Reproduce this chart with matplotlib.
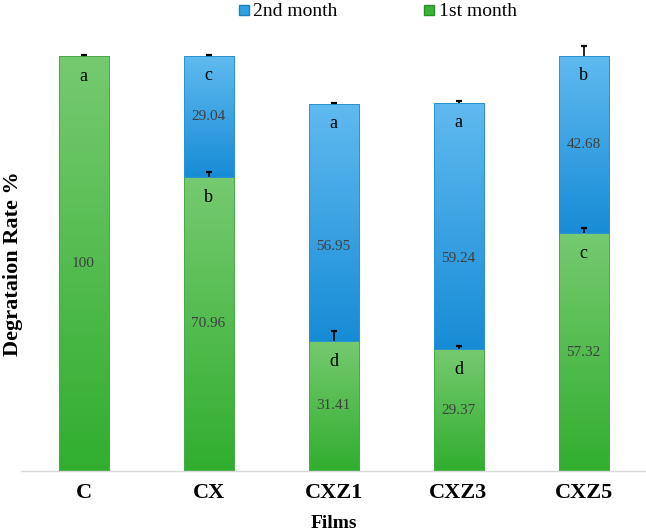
import numpy as np
import matplotlib
matplotlib.use("Agg")
import matplotlib.pyplot as plt
from matplotlib.colors import LinearSegmentedColormap
from matplotlib.lines import Line2D

# ---------------- data ----------------
films = ["C", "CX", "CXZ1", "CXZ3", "CXZ5"]
month1 = [100, 70.96, 31.41, 29.37, 57.32]
month2 = [0, 29.04, 56.95, 59.24, 42.68]
month1_err = [0.3, 1.2, 2.4, 0.8, 1.2]
month2_err = [0.0, 0.3, 0.4, 0.6, 2.4]
month1_letters = ["a", "b", "d", "d", "c"]
month2_letters = ["", "c", "a", "a", "b"]
series_names = ["2nd month", "1st month"]

# label nudges (layout, in data units) for the 2nd month value labels
month2_label_nudge = [0, 0, -5.8, -7.7, 0]

plt.rcParams['font.family'] = ['Liberation Serif', 'DejaVu Serif']

fig = plt.figure(figsize=(6.46, 5.31), dpi=100)
ax = fig.add_axes([21/646, 60/531, 625/646, 415/531])

x = np.arange(len(films))
width = 0.4

green_cmap = LinearSegmentedColormap.from_list("g", ["#31ae2f", "#76ca70"])
blue_cmap = LinearSegmentedColormap.from_list("b", ["#178cd6", "#60baef"])
grad = np.linspace(0, 1, 256).reshape(-1, 1)

bars1 = ax.bar(x, month1, width, color="#4dbb49", edgecolor="#49a548", linewidth=0.6, zorder=2)
bars2 = ax.bar(x, month2, width, bottom=month1, color="#35a3e3", edgecolor="#2a8fcc", linewidth=0.6, zorder=2)

for bars, cmap in ((bars1, green_cmap), (bars2, blue_cmap)):
    for r in bars:
        if r.get_height() <= 0:
            continue
        x0, y0 = r.get_x(), r.get_y()
        w, h = r.get_width(), r.get_height()
        im = ax.imshow(grad, extent=[x0, x0 + w, y0, y0 + h], origin="lower",
                       aspect="auto", cmap=cmap, zorder=2.5, interpolation="bilinear")
        im.set_clip_path(r)

# edges on top of gradient
for bars, ec in ((bars1, "#4aa848"), (bars2, "#2b92cf")):
    for r in bars:
        if r.get_height() <= 0:
            continue
        ax.add_patch(plt.Rectangle((r.get_x(), r.get_y()), r.get_width(), r.get_height(),
                                   fill=False, edgecolor=ec, linewidth=0.7, zorder=2.6))

ax.set_xlim(-0.5, 4.5)
ax.set_ylim(0, 100)

# error bars (plus side only, cap on top)
tops1 = np.array(month1)
tops2 = np.array(month1) + np.array(month2)


def plus_err(xi, top, err):
    ax.vlines(xi, top, top + err, colors="black", linewidth=1.2, zorder=4, clip_on=False)
    ax.plot([xi], [top + err], marker="_", markersize=5, markeredgewidth=1.6,
            color="black", zorder=4, clip_on=False)


for i in range(len(films)):
    plus_err(x[i], tops1[i], month1_err[i])
    if month2[i] > 0:
        plus_err(x[i], tops2[i], month2_err[i])

# value labels and letters
for i in range(len(films)):
    ax.text(x[i], month1[i] / 2, f"{month1[i]:g}", ha="center", va="center",
            fontsize=11, color="#404040", zorder=5)
    ax.annotate(month1_letters[i], (x[i], tops1[i]), xytext=(0, -15), textcoords="offset points",
                ha="center", va="center", fontsize=13, color="black", zorder=5)
    if month2[i] > 0:
        ax.text(x[i], month1[i] + month2[i] / 2 + month2_label_nudge[i], f"{month2[i]:g}",
                ha="center", va="center", fontsize=11, color="#404040", zorder=5)
        ax.annotate(month2_letters[i], (x[i], tops2[i]), xytext=(0, -14), textcoords="offset points",
                    ha="center", va="center", fontsize=13, color="black", zorder=5)

# axes styling
for s in ["left", "right", "top"]:
    ax.spines[s].set_visible(False)
ax.spines["bottom"].set_color("#d9d9d9")
ax.spines["bottom"].set_linewidth(1.0)
ax.set_yticks([])
ax.set_xticks(x)
ax.set_xticklabels(films, fontsize=16, fontweight="bold")
ax.tick_params(axis="x", length=0, pad=9)
ax.set_xlabel("Films", fontsize=14, fontweight="bold", labelpad=8)
ax.set_ylabel("Degrataion Rate %", fontsize=16, fontweight="bold")
ax.yaxis.set_label_coords(0.004, 0.5)

handles = [Line2D([], [], marker="s", linestyle="none", markersize=7,
                  markerfacecolor="#2ea0e6", markeredgecolor="#1a7fbf"),
           Line2D([], [], marker="s", linestyle="none", markersize=7,
                  markerfacecolor="#3cb23a", markeredgecolor="#2a8f2a")]
fig.legend(handles, series_names, loc="center", bbox_to_anchor=(0.584, 0.978), ncol=2,
           frameon=False, fontsize=14, handlelength=0.6, handletextpad=0.2,
           columnspacing=4.4, borderpad=0)

fig.savefig("out.png", dpi=100)
